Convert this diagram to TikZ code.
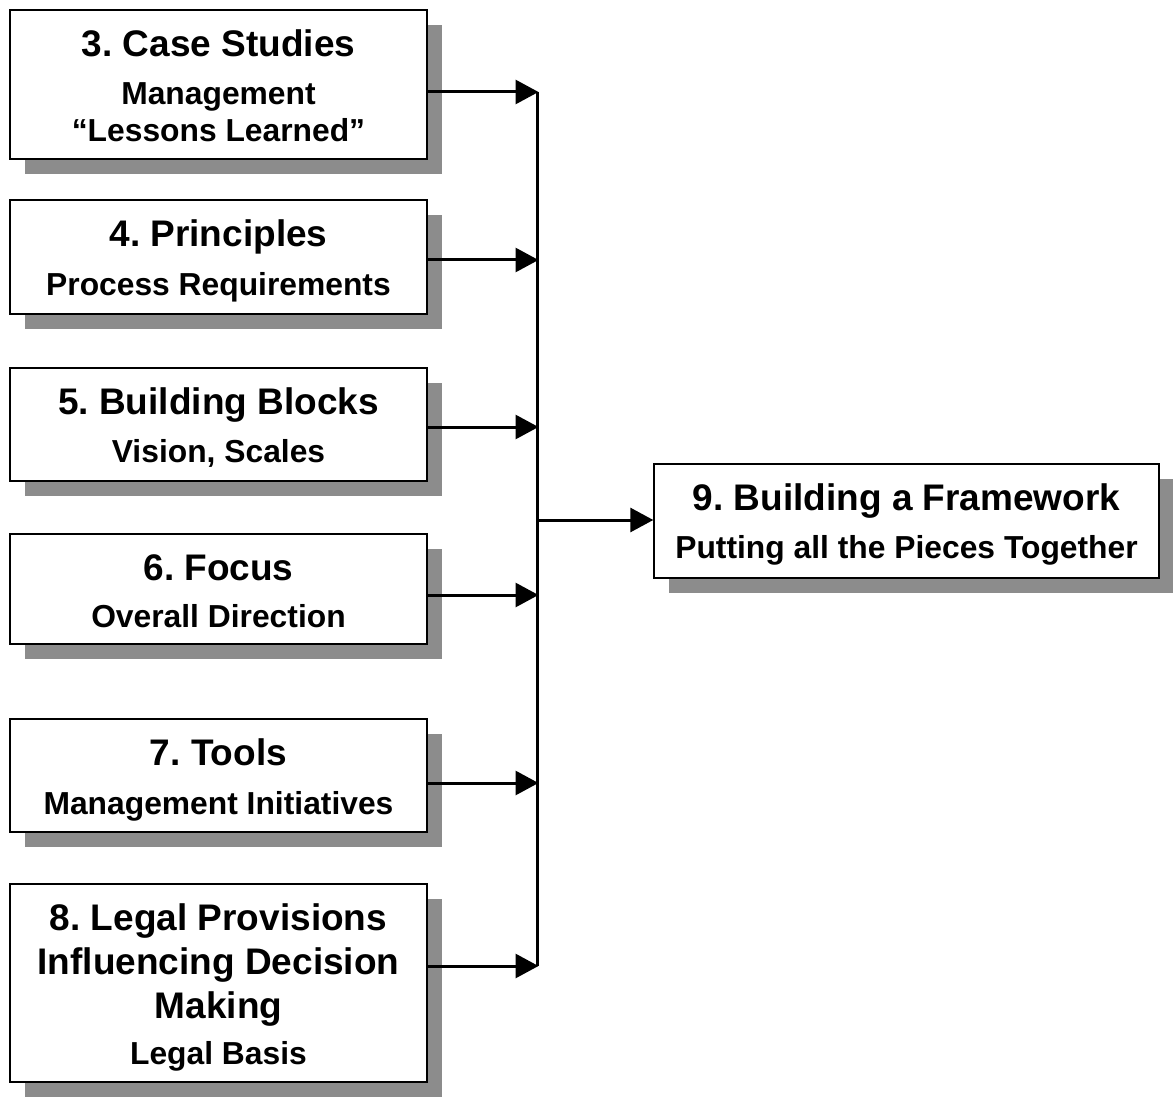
\documentclass[tikz,border=0pt]{standalone}
\usepackage{fontspec}
\setmainfont{Liberation Sans}
\usetikzlibrary{arrows.meta,shadows}

% heading line and subheading line (second argument of \boxsub: baseline skip)
\newcommand\boxhead[1]{{\fontsize{37}{44}\selectfont #1\par}}
\newcommand\boxsub[2]{{\fontsize{31.8}{#1}\selectfont #2\par}}

\tikzset{
  panel/.style={draw=black, line width=1.4pt, fill=white, inner sep=0pt,
    drop shadow={shadow xshift=15pt, shadow yshift=-15pt, fill=black!45, opacity=1}},
  leftpanel/.style={panel, minimum width=417pt},
  % text block hanging from the top edge of its panel; the strut fixes the first baseline,
  % and word spaces follow the size of the font in use
  paneltext/.style={inner sep=0pt, anchor=north, text width=#1, font=\bfseries,
    execute at begin node={\centering\frenchspacing\spaceskip=0pt\xspaceskip=0pt\leavevmode\rule{0pt}{35pt}}},
  conn/.style={line width=3pt, -{Triangle[length=23pt,width=24pt]}},
  busline/.style={line width=3pt}
}

\begin{document}
\begin{tikzpicture}[x=1pt, y=-1pt]
\useasboundingbox (0,0) rectangle (1173,1099);

% source panels
\node[leftpanel, minimum height=149pt] (b3) at (218.5,84.5) {};
\node[leftpanel, minimum height=114pt] (b4) at (218.5,257) {};
\node[leftpanel, minimum height=113pt] (b5) at (218.5,424.5) {};
\node[leftpanel, minimum height=110pt] (b6) at (218.5,589) {};
\node[leftpanel, minimum height=113pt] (b7) at (218.5,775.5) {};
\node[leftpanel, minimum height=198pt] (b8) at (218.5,983) {};

% target panel
\node[panel, minimum width=505pt, minimum height=114pt] (b9) at (906.5,521) {};

% panel texts
\node[paneltext=417pt] (t3) at ([yshift=-12pt]b3.north)
  {\boxhead{3. Case Studies}\boxsub{48}{Management}\boxsub{37}{“Lessons Learned”}};
\node[paneltext=417pt] (t4) at ([yshift=-12pt]b4.north)
  {\boxhead{4. Principles}\boxsub{49}{Process Requirements}};
\node[paneltext=417pt] (t5) at ([yshift=-12pt]b5.north)
  {\boxhead{5. Building Blocks}\boxsub{48}{Vision, Scales}};
\node[paneltext=417pt] (t6) at ([yshift=-12pt]b6.north)
  {\boxhead{6. Focus}\boxsub{47}{Overall Direction}};
\node[paneltext=417pt] (t7) at ([yshift=-12pt]b7.north)
  {\boxhead{7. Tools}\boxsub{49}{Management Initiatives}};
\node[paneltext=417pt] (t8) at ([yshift=-12pt]b8.north)
  {\boxhead{8. Legal Provisions}\boxhead{Influencing Decision}\boxhead{Making}\boxsub{46}{Legal Basis}};
\node[paneltext=505pt] (t9) at ([yshift=-12pt]b9.north)
  {\boxhead{9. Building a Framework}\boxsub{48}{Putting all the Pieces Together}};

% junction points on the collecting bus
\coordinate (j3) at (537,92);
\coordinate (j4) at (537,260);
\coordinate (j5) at (537,427);
\coordinate (j6) at (537,595);
\coordinate (j7) at (537,783);
\coordinate (j8) at (537,966);
\coordinate (j9) at (537,520);

\draw[busline] (j3) -- (j8);
\foreach \k in {3,...,8}
  \draw[conn] (j\k -| b\k.east) -- ([xshift=1.5pt]j\k);
\draw[conn] (j9) -- (j9 -| b9.west);
\end{tikzpicture}
\end{document}
